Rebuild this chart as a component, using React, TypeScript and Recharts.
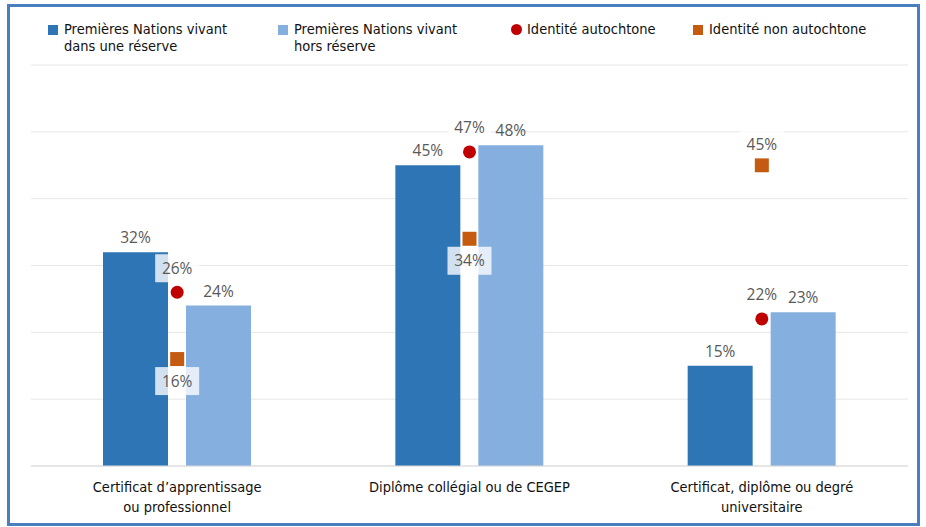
import {
  Bar,
  CartesianGrid,
  ComposedChart,
  LabelList,
  Scatter,
  XAxis,
  YAxis,
} from "recharts";

const categories = [
  "Certificat d’apprentissage\nou professionnel",
  "Diplôme collégial ou de CEGEP",
  "Certificat, diplôme ou degré\nuniversitaire",
];
const surReserve = [32, 45, 15];
const horsReserve = [24, 48, 23];
const autochtone = [26, 47, 22];
const nonAutochtone = [16, 34, 45];
const yTicks = [0, 10, 20, 30, 40, 50, 60];

const seriesNames = {
  sur: "Premières Nations vivant\ndans une réserve",
  hors: "Premières Nations vivant\nhors réserve",
  auto: "Identité autochtone",
  nonAuto: "Identité non autochtone",
};

const DARK = "#2E75B6";
const LIGHT = "#85AFDE";
const RED = "#C00000";
const ORANGE = "#C55A11";
const NARROW = '"Liberation Sans Narrow", "DejaVu Sans Condensed", Roboto, sans-serif';
const LABEL_FONT = '"Open Sans", "Liberation Sans", sans-serif';

const rows = categories.map((name, i) => ({
  name,
  sur: surReserve[i],
  hors: horsReserve[i],
  auto: autochtone[i],
  nonAuto: nonAutochtone[i],
}));

function CategoryTick({ x, y, payload }: any) {
  const lines = String(payload.value).split("\n");
  return (
    <text x={x} y={y} textAnchor="middle" fontFamily={NARROW} fontSize={14.5} fill="#111">
      {lines.map((l, i) => (
        <tspan key={i} x={x} dy={i === 0 ? 24 : 20}>
          {l}
        </tspan>
      ))}
    </text>
  );
}

function PointLabel({ x, y, text }: { x: number; y: number; text: string }) {
  return (
    <g>
      <rect x={x - 22} y={y - 14} width={44} height={28} fill="#fff" fillOpacity={0.78} />
      <text x={x} y={y} dy={5.5} textAnchor="middle" fontFamily={LABEL_FONT} fontSize={15.5} fill="#595959">
        {text}
      </text>
    </g>
  );
}

function CircleShape(props: any) {
  const { cx, cy, payload } = props;
  return (
    <g>
      <circle cx={cx} cy={cy} r={6.5} fill={RED} />
      <PointLabel x={cx} y={cy - 24} text={`${payload.auto}%`} />
    </g>
  );
}

function SquareShape(props: any) {
  const { cx, cy, payload } = props;
  // label goes under the marker unless the marker sits above both bars
  const above = payload.nonAuto > Math.max(payload.sur, payload.hors);
  return (
    <g>
      <rect x={cx - 7} y={cy - 7} width={14} height={14} fill={ORANGE} />
      <PointLabel x={cx} y={above ? cy - 21 : cy + 22} text={`${payload.nonAuto}%`} />
    </g>
  );
}

function LegendItem({ left, marker, text }: { left: number; marker: React.ReactNode; text: string }) {
  return (
    <div style={{ position: "absolute", left, top: 21, display: "flex", alignItems: "flex-start" }}>
      <div style={{ width: 16, height: 17, display: "flex", alignItems: "center", justifyContent: "flex-start" }}>
        {marker}
      </div>
      <div style={{ fontFamily: NARROW, fontSize: 14.5, lineHeight: "17px", color: "#111", whiteSpace: "pre" }}>
        {text}
      </div>
    </div>
  );
}

export default function App() {
  return (
    <div style={{ position: "absolute", left: 0, top: 0, width: 926, height: 527, background: "#fff" }}>
      <ComposedChart
        width={926}
        height={527}
        data={rows}
        margin={{ top: 65, right: 18, left: 31, bottom: 0 }}
        barGap={18}
      >
        <CartesianGrid vertical={false} stroke="#E6E6E6" />
        <XAxis
          dataKey="name"
          interval={0}
          height={61}
          tickLine={false}
          tickSize={0}
          axisLine={{ stroke: "#D9D9D9" }}
          tick={<CategoryTick />}
        />
        <YAxis hide domain={[0, 60]} ticks={yTicks} />
        <Bar dataKey="sur" name={seriesNames.sur} fill={DARK} barSize={65} isAnimationActive={false}>
          <LabelList
            dataKey="sur"
            position="top"
            offset={9}
            formatter={(v: any) => `${v}%`}
            fill="#595959"
            fontSize={15.5}
            fontFamily={LABEL_FONT}
          />
        </Bar>
        <Bar dataKey="hors" name={seriesNames.hors} fill={LIGHT} barSize={65} isAnimationActive={false}>
          <LabelList
            dataKey="hors"
            position="top"
            offset={9}
            formatter={(v: any) => `${v}%`}
            fill="#595959"
            fontSize={15.5}
            fontFamily={LABEL_FONT}
          />
        </Bar>
        <Scatter dataKey="auto" name={seriesNames.auto} shape={<CircleShape />} isAnimationActive={false} />
        <Scatter dataKey="nonAuto" name={seriesNames.nonAuto} shape={<SquareShape />} isAnimationActive={false} />
      </ComposedChart>

      <LegendItem
        left={48}
        marker={<div style={{ width: 10, height: 10, background: DARK }} />}
        text={seriesNames.sur}
      />
      <LegendItem
        left={278}
        marker={<div style={{ width: 10, height: 10, background: LIGHT }} />}
        text={seriesNames.hors}
      />
      <LegendItem
        left={511}
        marker={<div style={{ width: 11, height: 11, borderRadius: "50%", background: RED }} />}
        text={seriesNames.auto}
      />
      <LegendItem
        left={693}
        marker={<div style={{ width: 10, height: 10, background: ORANGE }} />}
        text={seriesNames.nonAuto}
      />

      <div
        style={{
          position: "absolute",
          left: 7,
          top: 4,
          width: 913,
          height: 522,
          border: "3px solid #4A7EBF",
          boxSizing: "border-box",
          pointerEvents: "none",
        }}
      />
    </div>
  );
}
